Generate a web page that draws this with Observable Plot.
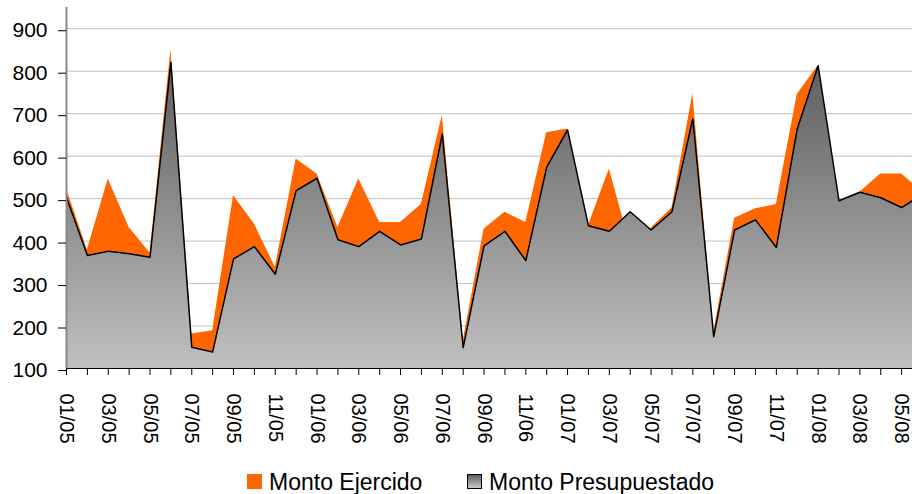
<!DOCTYPE html>
<html>
<head>
<meta charset="utf-8">
<script src="https://cdn.jsdelivr.net/npm/d3@7"></script>
<script src="https://cdn.jsdelivr.net/npm/@observablehq/plot@0.6"></script>
<style>
  html, body { margin: 0; padding: 0; background: white; overflow: hidden; }
  #chart { position: relative; width: 912px; }
  #legend { position: relative; width: 912px; height: 32px; font-family: "Liberation Sans", Arial, sans-serif; font-size: 23px; color: #000; }
  .item { position: absolute; top: 9px; line-height: 23px; white-space: nowrap; }
  .sw { position: absolute; width: 15px; height: 15px; box-sizing: border-box; }
</style>
</head>
<body>
<div id="chart"></div>
<div id="legend">
  <div class="sw" style="left:247px; top:12px; background:#FF6600;"></div>
  <div class="item" style="left:269px;">Monto Ejercido</div>
  <div class="sw" style="left:467px; top:12px; background:linear-gradient(#5e5e5e,#c8c8c8); border:1px solid #000;"></div>
  <div class="item" style="left:489px;">Monto Presupuestado</div>
</div>
<script>
const months = [
  "01/05","02/05","03/05","04/05","05/05","06/05","07/05","08/05","09/05","10/05","11/05","12/05",
  "01/06","02/06","03/06","04/06","05/06","06/06","07/06","08/06","09/06","10/06","11/06","12/06",
  "01/07","02/07","03/07","04/07","05/07","06/07","07/07","08/07","09/07","10/07","11/07","12/07",
  "01/08","02/08","03/08","04/08","05/08","06/08"
];
const presupuestado = [
  503, 366, 376, 370, 362, 821, 150, 139, 358, 387, 322, 519,
  548, 403, 387, 423, 391, 405, 652, 149, 389, 423, 354, 574,
  662, 436, 423, 469, 426, 469, 688, 175, 426, 450, 385, 664,
  813, 495, 515, 502, 479, 510
];
const ejercido = [
  523, 379, 546, 432, 372, 850, 181, 189, 507, 440, 338, 593,
  558, 432, 546, 444, 444, 487, 696, 165, 428, 468, 444, 655,
  664, 436, 570, 391, 430, 478, 747, 185, 454, 476, 486, 745,
  813, 490, 515, 558, 558, 516
];
const yTicks = [100, 200, 300, 400, 500, 600, 700, 800, 900];

const data = months.map((m, i) => ({mes: m, presupuestado: presupuestado[i], ejercido: ejercido[i]}));

const plot = Plot.plot({
  width: 912,
  height: 462,
  marginLeft: 66,
  marginRight: 0,
  marginTop: 7,
  marginBottom: 94,
  style: {fontFamily: "'Liberation Sans', Arial, sans-serif", fontSize: "20px", color: "#000", background: "white"},
  x: {type: "point", domain: months, range: [66, 922], padding: 0, label: null},
  y: {domain: [100, 950], label: null},
  marks: [
    Plot.gridY(yTicks.slice(1), {stroke: "#c0c0c0", strokeOpacity: 1}),
    Plot.areaY(data, {x: "mes", y1: 100, y2: "ejercido", fill: "#FF6600", clip: true}),
    Plot.areaY(data, {x: "mes", y1: 100, y2: "presupuestado", fill: "url(#gradPres)", clip: true}),
    Plot.lineY(data, {x: "mes", y: "presupuestado", stroke: "#000", strokeWidth: 1.5, clip: true}),
    Plot.ruleY([100], {stroke: "#000", strokeWidth: 1.2}),
    Plot.ruleX([months[0]], {stroke: "#888", strokeWidth: 2}),
    Plot.axisY(yTicks, {tickSize: 8, tickPadding: 11, dy: 2, fontSize: 21, label: null}),
    Plot.axisX(months, {tickSize: 7, tickPadding: 18, tickRotate: 90, fontSize: 20, label: null,
      tickFormat: d => months.indexOf(d) % 2 ? "" : d})
  ]
});

const svg = d3.select(plot.tagName.toLowerCase() === "svg" ? plot : plot.querySelector("svg"));
const defs = svg.insert("defs", ":first-child");
const grad = defs.append("linearGradient").attr("id", "gradPres")
  .attr("x1", 0).attr("y1", 0).attr("x2", 0).attr("y2", 1);
grad.append("stop").attr("offset", "0%").attr("stop-color", "#5e5e5e");
grad.append("stop").attr("offset", "100%").attr("stop-color", "#c0c0c0");

document.getElementById("chart").appendChild(plot);
</script>
</body>
</html>
